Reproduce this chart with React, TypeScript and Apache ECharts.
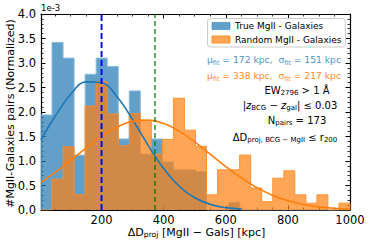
import React, { useEffect, useRef } from 'react';
import * as echarts from 'echarts';

// ---- data (densities in units of 1e-3) ----
const binEdges = [5.0, 40.5, 76.1, 111.6, 147.1, 182.7, 218.2, 253.8, 289.3, 324.8, 360.4, 395.9, 431.4, 467.0, 502.5, 538.0, 573.6, 609.1, 644.6, 680.2, 715.7, 751.3, 786.8, 822.3, 857.9, 893.4, 928.9, 964.5, 1000.0];
const trueDensity = [1.94, 3.42, 3.10, 1.12, 2.77, 3.10, 2.93, 1.45, 2.43, 1.14, 1.45, 0.98, 0.82, 0.82, 0.78, 0, 0, 0.15, 0, 0, 0, 0, 0, 0, 0, 0, 0, 0];
const randomDensity = [0, 0.63, 1.29, 0.31, 2.12, 2.62, 1.96, 1.31, 1.97, 1.80, 1.14, 1.44, 2.28, 1.63, 1.30, 0.31, 0.82, 0.82, 1.12, 0.45, 0.17, 0.65, 0.80, 0.31, 0.14, 0.31, 0, 0.14];
const trueFitX = [5, 50, 100, 150, 200, 250, 300, 350, 400, 450, 500, 550, 600, 650];
const trueFitY = [1.433, 1.907, 2.358, 2.614, 2.597, 2.312, 1.845, 1.319, 0.845, 0.485, 0.250, 0.115, 0.048, 0.018];
const randomFitX = [5, 50, 100, 150, 200, 250, 300, 350, 400, 450, 500, 550, 600, 650, 700, 750, 800, 850, 900, 950, 1000];
const randomFitY = [0.566, 0.762, 1.007, 1.263, 1.502, 1.693, 1.810, 1.835, 1.765, 1.609, 1.391, 1.140, 0.887, 0.654, 0.457, 0.303, 0.191, 0.114, 0.064, 0.034, 0.017];
const trueMedian = 200;
const randomMedian = 372;
const seriesNames = ['True MgII - Galaxies', 'Random MgII - Galaxies'];
const xRange = [5, 1000];
const yRange = [0, 4];

const F = 'DejaVu Sans';

function stepPoints(edges: number[], vals: number[]) {
  const pts: number[][] = [[edges[0], 0]];
  vals.forEach((v, i) => {
    pts.push([edges[i], v]);
    pts.push([edges[i + 1], v]);
  });
  pts.push([edges[edges.length - 1], 0]);
  return pts;
}

function richStyles(fill: string, size: number) {
  return {
    m: { fontSize: size, fontFamily: F, fill, lineHeight: 13 },
    i: { fontSize: size, fontFamily: F, fill, lineHeight: 13, fontStyle: 'italic' },
    s: { fontSize: size * 0.7, fontFamily: F, fill, lineHeight: 6, verticalAlign: 'bottom' },
  };
}

function makeAxis(pos: string, isX: boolean, labels: boolean) {
  return {
    type: 'value',
    position: pos,
    min: isX ? xRange[0] : yRange[0],
    max: isX ? xRange[1] : yRange[1],
    ...(isX ? {} : { interval: 0.5 }),
    splitLine: { show: false },
    axisLine: { show: true, onZero: false, lineStyle: { color: '#000', width: 1.2 } },
    axisTick: { show: true, inside: true, length: 4.5, lineStyle: { color: '#000', width: 1 } },
    minorTick: { show: true, splitNumber: isX ? 4 : 5, length: 2.5, lineStyle: { color: '#000', width: 0.8 } },
    axisLabel: {
      show: labels,
      margin: isX ? 4 : 5,
      fontSize: 11.5,
      fontFamily: F,
      color: '#000',
      formatter: isX
        ? (v: number) => (Math.abs(v % 200) < 1e-6 ? String(v) : '')
        : (v: number) => v.toFixed(1),
    },
  };
}

export default function App() {
  const ref = useRef<HTMLDivElement>(null);
  useEffect(() => {
    if (!ref.current) return;
    const chart = echarts.init(ref.current, null, { renderer: 'svg' });
    const blue = '#1f77b4';
    const orange = '#ff7f0e';
    const option: any = {
      animation: false,
      grid: { left: 41, right: 24, top: 14, bottom: 39 },
      xAxis: [makeAxis('bottom', true, true), makeAxis('top', true, false)],
      yAxis: [makeAxis('left', false, true), makeAxis('right', false, false)],
      legend: {
        orient: 'vertical',
        left: 207.5,
        top: 18.5,
        padding: [2, 4, 2, 4],
        itemGap: 2.5,
        itemWidth: 18,
        itemHeight: 7,
        icon: 'rect',
        selectedMode: false,
        backgroundColor: 'rgba(255,255,255,0.8)',
        borderColor: '#cccccc',
        borderWidth: 1,
        borderRadius: 3,
        textStyle: { fontSize: 9, fontFamily: F, color: '#000', lineHeight: 11 },
        data: [
          { name: seriesNames[0], itemStyle: { color: 'rgba(31,119,180,0.7)', borderColor: 'rgba(31,119,180,0.5)', borderWidth: 1 } },
          { name: seriesNames[1], itemStyle: { color: 'rgba(255,127,14,0.7)', borderColor: 'rgba(255,127,14,0.8)', borderWidth: 1 } },
        ],
      },
      series: [
        {
          name: seriesNames[0],
          type: 'line',
          data: stepPoints(binEdges, trueDensity),
          symbol: 'none',
          itemStyle: { color: 'rgba(31,119,180,0.7)' },
          lineStyle: { color: 'rgba(140,186,220,1)', width: 1 },
          areaStyle: { color: blue, opacity: 0.7 },
          z: 2,
        },
        {
          name: seriesNames[1],
          type: 'line',
          data: stepPoints(binEdges, randomDensity),
          symbol: 'none',
          itemStyle: { color: 'rgba(255,127,14,0.7)' },
          lineStyle: { color: 'rgba(255,140,40,0.9)', width: 1 },
          areaStyle: { color: orange, opacity: 0.7 },
          z: 3,
        },
        {
          name: 'true fit',
          type: 'line',
          data: trueFitX.map((x, i) => [x, trueFitY[i]]),
          symbol: 'none',
          smooth: 0.4,
          lineStyle: { color: blue, width: 1.6 },
          z: 4,
        },
        {
          name: 'random fit',
          type: 'line',
          data: randomFitX.map((x, i) => [x, randomFitY[i]]),
          symbol: 'none',
          smooth: 0.4,
          lineStyle: { color: orange, width: 1.6 },
          z: 4,
        },
        {
          name: 'true median',
          type: 'line',
          data: [[trueMedian, yRange[0]], [trueMedian, yRange[1]]],
          symbol: 'none',
          lineStyle: { color: '#0000ff', width: 1.9, type: [6, 3] },
          z: 5,
        },
        {
          name: 'random median',
          type: 'line',
          data: [[randomMedian, yRange[0]], [randomMedian, yRange[1]]],
          symbol: 'none',
          lineStyle: { color: '#008000', width: 1.3, type: [5, 3] },
          z: 5,
        },
      ],
      graphic: [
        {
          type: 'text', x: 41, y: 8,
          style: { text: '1e-3', fontSize: 8.5, fontFamily: F, fill: '#000', textVerticalAlign: 'middle' },
        },
        {
          type: 'text', x: 10, y: 113.5, rotation: Math.PI / 2,
          style: { text: '#MgII-Galaxies pairs (Normalized)', fontSize: 11, fontFamily: F, fill: '#000', textAlign: 'center', textVerticalAlign: 'middle' },
        },
        {
          type: 'text', x: 196.5, y: 232,
          style: {
            text: '{m|ΔD}{s|proj}{m| [MgII − Gals] [kpc]}',
            rich: richStyles('#000', 11), textAlign: 'center', textVerticalAlign: 'middle',
          },
        },
        {
          type: 'text', x: 207, y: 59,
          style: {
            text: '{m|μ}{s|fit}{m| = 172 kpc,  σ}{s|fit}{m| = 151 kpc}',
            rich: richStyles('#4f93c9', 9.2), textAlign: 'left', textVerticalAlign: 'middle',
          },
        },
        {
          type: 'text', x: 207, y: 75,
          style: {
            text: '{m|μ}{s|fit}{m| = 338 kpc,  σ}{s|fit}{m| = 217 kpc}',
            rich: richStyles('#ff8c22', 9.2), textAlign: 'left', textVerticalAlign: 'middle',
          },
        },
        {
          type: 'text', x: 297, y: 90,
          style: {
            text: '{m|EW}{s|2796}{m| > 1 Å}',
            rich: richStyles('#000', 10), textAlign: 'center', textVerticalAlign: 'middle',
          },
        },
        {
          type: 'text', x: 290, y: 105,
          style: {
            text: '{m||}{i|z}{s|BCG}{m| − }{i|z}{s|gal}{m|| ≤ 0.03}',
            rich: richStyles('#000', 10), textAlign: 'center', textVerticalAlign: 'middle',
          },
        },
        {
          type: 'text', x: 297, y: 120,
          style: {
            text: '{m|N}{s|pairs}{m| = 173}',
            rich: richStyles('#000', 10), textAlign: 'center', textVerticalAlign: 'middle',
          },
        },
        {
          type: 'text', x: 285, y: 137,
          style: {
            text: '{m|ΔD}{s|proj, BCG − MgII}{m| ≤ r}{s|200}',
            rich: richStyles('#000', 10), textAlign: 'center', textVerticalAlign: 'middle',
          },
        },
      ],
    };
    chart.setOption(option);
    return () => chart.dispose();
  }, []);
  return <div ref={ref} style={{ position: 'absolute', left: 0, top: 0, width: 374, height: 249 }} />;
}
